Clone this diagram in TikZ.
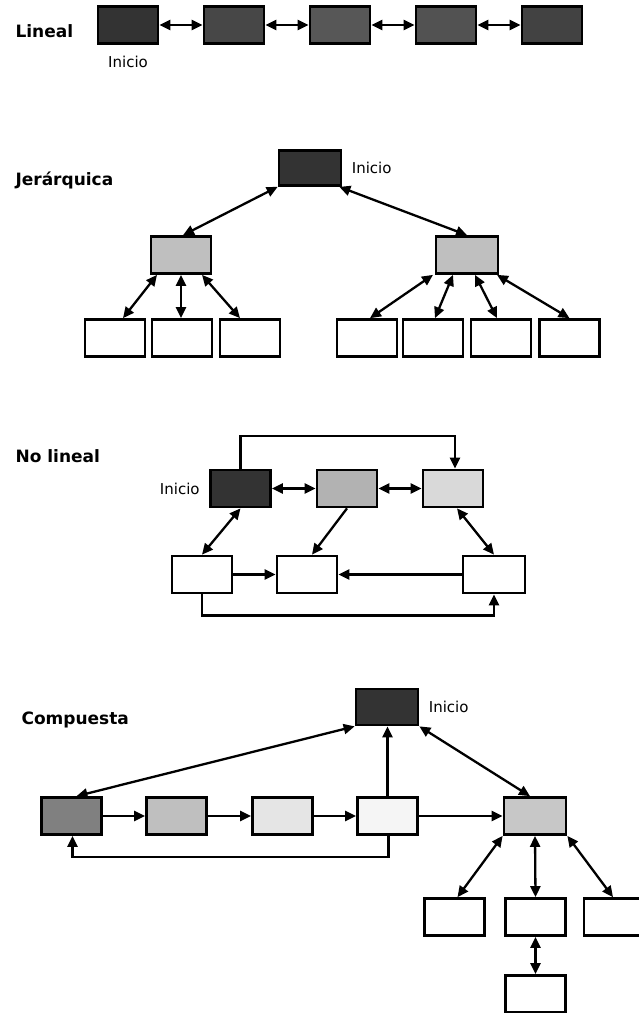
\documentclass[tikz,border=0pt]{standalone}
\usepackage{fontspec}
\setmainfont{DejaVu Sans}
\usetikzlibrary{arrows.meta,positioning}

\begin{document}
\begin{tikzpicture}[x=1pt,y=-1pt,
	caja/.style={draw, line width=2.7pt, minimum width=60pt, minimum height=37pt, inner sep=0pt},
	titulo/.style={font=\fontsize{17}{20}\selectfont\bfseries, anchor=west},
	texto/.style={font=\fontsize{15}{18}\selectfont},
	flecha/.style={line width=2.3pt, -{Triangle[length=11pt,width=10pt]}},
	doble/.style={line width=2.3pt, {Triangle[length=11pt,width=10pt]}-{Triangle[length=11pt,width=10pt]}}]
	\useasboundingbox (0,0) rectangle (639,1013);

	% Lineal
	\begin{scope}[shift={(0,0)}]
		\node[titulo] (tLin) at (12,31) {Lineal};
		\node[caja, fill=black!80] (L1) at (128,25) {};
		\node[caja, fill=black!72] (L2) at (234,25) {};
		\node[caja, fill=black!66] (L3) at (340,25) {};
		\node[caja, fill=black!68] (L4) at (446,25) {};
		\node[caja, fill=black!74] (L5) at (552,25) {};
		\node[texto] (iLin) at (128,62) {Inicio};
		\draw[doble] (L1) -- (L2);
		\draw[doble] (L2) -- (L3);
		\draw[doble] (L3) -- (L4);
		\draw[doble] (L4) -- (L5);
	\end{scope}

	% Jerarquica
	\begin{scope}[shift={(0,150)}]
		\node[titulo] (tJer) at (12,30) {Jerárquica};
		\node[caja, fill=black!80, minimum width=62pt, minimum height=35pt] (J0) at (310,18) {};
		\node[texto, right=6pt of J0] (iJer) {Inicio};
		\node[caja, fill=black!25] (J1) at (181,105) {};
		\node[caja, fill=black!25, minimum width=62pt] (J2) at (467,105) {};
		\node[caja] (H1) at (115,188) {};
		\node[caja] (H2) at (182,188) {};
		\node[caja] (H3) at (250,188) {};
		\node[caja] (H4) at (367,188) {};
		\node[caja] (H5) at (433,188) {};
		\node[caja] (H6) at (501,188) {};
		\node[caja] (H7) at (569.5,188) {};
		\draw[doble] (J0.south west) -- ([xshift=2pt]J1.north);
		\draw[doble] ([xshift=-3pt]J0.south east) -- (J2.north);
		\draw[doble] ([xshift=-24pt]J1.south) -- ([xshift=8pt]H1.north);
		\draw[doble] (J1.south) -- (J1.south |- H2.north);
		\draw[doble] ([xshift=21pt]J1.south) -- ([xshift=-10pt]H3.north);
		\draw[doble] ([xshift=-34pt]J2.south) -- ([xshift=3pt]H4.north);
		\draw[doble] ([xshift=-14pt]J2.south) -- ([xshift=2pt]H5.north);
		\draw[doble] ([xshift=8pt]J2.south) -- ([xshift=-4pt]H6.north);
		\draw[doble] ([xshift=30pt]J2.south) -- (H7.north);
	\end{scope}

	% No lineal
	\begin{scope}[shift={(0,437)}]
		\node[titulo] (tNo) at (12,19) {No lineal};
		\node[caja, fill=black!80] (A) at (240.5,51.5) {};
		\node[texto, left=6pt of A] (iNo) {Inicio};
		\node[caja, fill=black!30] (B) at (347,51.5) {};
		\node[caja, fill=black!15] (C) at (453,51.5) {};
		\node[caja] (D) at (202,137.5) {};
		\node[caja] (E) at (307,137.5) {};
		\node[caja, minimum width=62pt] (F) at (494,137.5) {};
		\draw[flecha] (A.north) -- ++(0,-33) -| ([xshift=2pt]C.north);
		\draw[doble] (A) -- (B);
		\draw[doble] (B) -- (C);
		\draw[doble] (A.south) -- (D.north);
		\draw[flecha] (B.south) -- ([xshift=5pt]E.north);
		\draw[doble] ([xshift=4pt]C.south) -- (F.north);
		\draw[flecha] (D) -- (E);
		\draw[flecha] (F) -- (E);
		\draw[flecha] (D.south) -- ++(0,21) -| (F.south);
	\end{scope}

	% Compuesta
	\begin{scope}[shift={(0,689)}]
		\node[titulo] (tCom) at (18,31) {Compuesta};
		\node[caja, fill=black!80, minimum width=62pt, minimum height=36pt] (T0) at (387,18) {};
		\node[texto, right=6pt of T0] (iCom) {Inicio};
		\node[caja, fill=black!50] (R1) at (71.5,127) {};
		\node[caja, fill=black!25] (R2) at (176.5,127) {};
		\node[caja, fill=black!10] (R3) at (282.5,127) {};
		\node[caja, fill=black!4] (R4) at (387.5,127) {};
		\node[caja, fill=black!22, minimum width=62pt] (R5) at (535,127) {};
		\node[caja] (S1) at (454.5,228) {};
		\node[caja] (S2) at (535.5,228) {};
		\node[caja] (S3) at (614,228) {};
		\node[caja] (S4) at (535.5,305) {};
		\draw[doble] (T0.south west) -- ([xshift=5pt]R1.north);
		\draw[flecha] (R4.north) -- (R4.north |- T0.south);
		\draw[doble] (T0.south east) -- ([xshift=-5pt]R5.north);
		\draw[flecha] (R1) -- (R2);
		\draw[flecha] (R2) -- (R3);
		\draw[flecha] (R3) -- (R4);
		\draw[flecha] (R4) -- (R5);
		\draw[flecha] ([xshift=1pt]R4.south) -- ++(0,21) -| ([xshift=1pt]R1.south);
		\draw[doble] (R5.south west) -- ([xshift=3pt]S1.north);
		\draw[doble] (R5.south) -- (S2.north);
		\draw[doble] (R5.south east) -- ([xshift=-1pt]S3.north);
		\draw[doble] (S2) -- (S4);
	\end{scope}
\end{tikzpicture}
\end{document}
